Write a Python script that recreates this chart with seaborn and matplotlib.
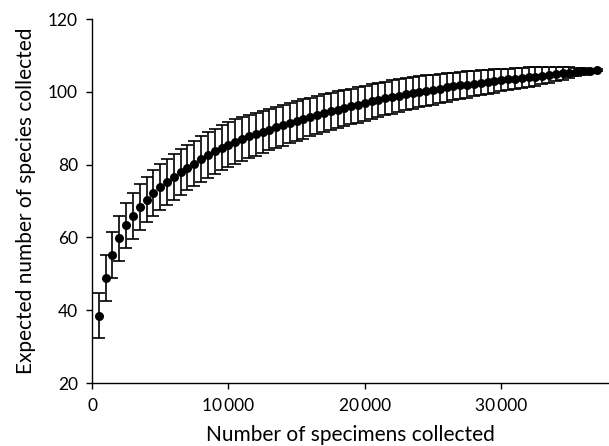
import matplotlib
matplotlib.use("Agg")
import matplotlib.pyplot as plt
import seaborn as sns
import pandas as pd

specimens = list(range(500, 37001, 500))

species = [
    38.5, 48.9, 55.1, 59.7, 63.3, 65.8, 68.3, 70.4, 72.2, 73.9,
    75.3, 76.7, 78.0, 79.2, 80.3, 81.5, 82.6, 83.7, 84.6, 85.5,
    86.3, 87.05, 87.75, 88.4, 89.0, 89.6, 90.2, 90.8, 91.4, 91.95,
    92.5, 93.05, 93.6, 94.1, 94.6, 95.1, 95.55, 96.0, 96.45, 96.9,
    97.35, 97.8, 98.2, 98.6, 98.95, 99.3, 99.65, 100.0, 100.3, 100.6,
    100.9, 101.2, 101.5, 101.75, 102.0, 102.25, 102.5, 102.75, 103.0, 103.2,
    103.4, 103.6, 103.8, 104.0, 104.2, 104.45, 104.65, 104.85, 105.05, 105.25,
    105.45, 105.6, 105.8, 106.0,
]

sd = [
    6.2, 6.3, 6.3, 6.2, 6.2, 6.3, 6.3, 6.3, 6.3, 6.3,
    6.3, 6.3, 6.3, 6.3, 6.3, 6.3, 6.3, 6.2, 6.2, 6.2,
    6.1, 6.0, 6.0, 5.9, 5.8, 5.7, 5.6, 5.6, 5.5, 5.4,
    5.4, 5.3, 5.2, 5.2, 5.1, 5.0, 5.0, 4.9, 4.9, 4.8,
    4.7, 4.7, 4.6, 4.6, 4.5, 4.4, 4.4, 4.3, 4.2, 4.1,
    4.0, 3.9, 3.8, 3.7, 3.6, 3.5, 3.4, 3.3, 3.2, 3.1,
    3.0, 2.9, 2.8, 2.7, 2.5, 2.3, 2.1, 1.9, 1.7, 1.5,
    1.2, 0.9, 0.6, 0.2,
]

x_ticks = [0, 10000, 20000, 30000]
x_tick_labels = ["0", "10\u2009000", "20\u2009000", "30\u2009000"]
y_ticks = [20, 40, 60, 80, 100, 120]

df = pd.DataFrame({"specimens": specimens, "species": species, "sd": sd})

sns.set_style("ticks")
plt.rcParams["font.family"] = ["Lato", "DejaVu Sans"]

fig = plt.figure(figsize=(6.09, 4.46), dpi=100)
ax = fig.add_axes([92 / 609, 1 - 383 / 446, 1 - 92 / 609, (383 - 19) / 446])

ax.errorbar(df["specimens"], df["species"], yerr=df["sd"], fmt="none",
            ecolor="black", elinewidth=1.2, capsize=4.3, capthick=1.2, zorder=2)
sns.scatterplot(data=df, x="specimens", y="species", ax=ax, color="black",
                s=42, edgecolor="black", linewidth=0, zorder=3, legend=False)

ax.set_xlim(0, 37900)
ax.set_ylim(20, 120)
ax.set_xticks(x_ticks)
ax.set_xticklabels(x_tick_labels)
ax.set_yticks(y_ticks)
ax.tick_params(axis="both", direction="out", length=4, width=1, colors="black",
               labelsize=12.5)
ax.tick_params(axis="x", pad=7)
ax.tick_params(axis="y", pad=6)
for side in ["top", "right"]:
    ax.spines[side].set_visible(False)
for side in ["left", "bottom"]:
    ax.spines[side].set_color("black")
    ax.spines[side].set_linewidth(1.0)

ax.set_xlabel("Number of specimens collected", fontsize=15, color="black", labelpad=8)
ax.set_ylabel("Expected number of species collected", fontsize=15, color="black", labelpad=9)

fig.savefig("out.png", dpi=100)
